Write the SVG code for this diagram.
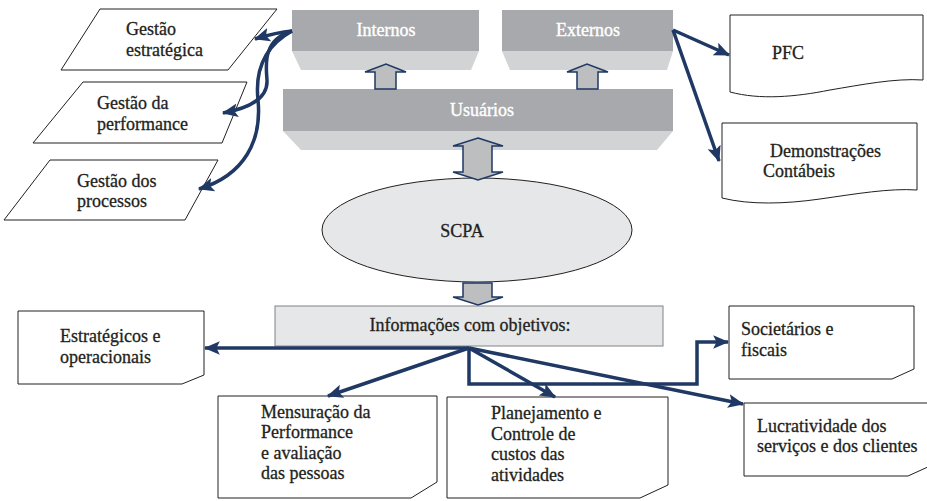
<svg xmlns="http://www.w3.org/2000/svg" width="927" height="501" viewBox="0 0 927 501">
<style>
text{font-family:"Liberation Serif","DejaVu Serif","Times New Roman",serif;font-size:18px;fill:#231f20;stroke:#231f20;stroke-width:0.3}
.w{fill:#ffffff;stroke:#ffffff;stroke-width:0.4}
.dark{fill:#a7a9ac}
.light{fill:#d1d3d4}
.shape{fill:#ffffff;stroke:#231f20;stroke-width:1}
.pale{fill:#e6e7e8;stroke:#231f20;stroke-width:1}
.info{fill:#e6e7e8;stroke:#808285;stroke-width:1}
.block{fill:#bcbec0;stroke:#1f3864;stroke-width:1.5}
.con{fill:none;stroke:#1f3864;stroke-width:3.5;marker-end:url(#ah)}
</style>
<defs>
<marker id="ah" markerUnits="userSpaceOnUse" markerWidth="16" markerHeight="16" viewBox="0 0 14 14" refX="13" refY="7" orient="auto">
<path d="M0,1 L14,7 L0,13 L3,7 Z" fill="#1f3864"/>
</marker>
</defs>
<rect width="927" height="501" fill="#ffffff"/>

<g id="gestao-estrategica">
<polygon class="shape" points="100,9 277,9 228,70 61,70"/>
<text x="126" y="35">Gestão</text>
<text x="126" y="56">estratégica</text>
</g>
<g id="gestao-performance">
<polygon class="shape" points="83,82 247,82 222,143 33,143"/>
<text x="97" y="109">Gestão da</text>
<text x="97" y="130">performance</text>
</g>
<g id="gestao-processos">
<polygon class="shape" points="50,160 218,160 185,220 4,220"/>
<text x="77" y="187">Gestão dos</text>
<text x="77" y="207">processos</text>
</g>

<g id="internos">
<rect class="dark" x="292" y="10" width="187" height="41"/>
<polygon class="light" points="292,51 479,51 471,70 301,70"/>
<text class="w" x="386" y="36" text-anchor="middle">Internos</text>
</g>
<g id="externos">
<rect class="dark" x="502" y="10" width="171" height="41"/>
<polygon class="light" points="502,51 673,51 667,70 510,70"/>
<text class="w" x="588" y="36" text-anchor="middle">Externos</text>
</g>
<g id="usuarios">
<rect class="dark" x="283" y="89" width="390" height="42"/>
<polygon class="light" points="283,131 673,131 657,150 301,150"/>
<text class="w" x="482" y="116" text-anchor="middle">Usuários</text>
</g>

<g id="pfc">
<path class="shape" d="M730,15 H923 V80 C895,78 860,85 830,90 C795,97 760,100 730,92 Z"/>
<text x="772" y="59">PFC</text>
</g>
<g id="demonstracoes">
<path class="shape" d="M722,123 H917 V190 C890,188 855,194 820,199 C785,204 750,205 722,198 Z"/>
<text x="770" y="157">Demonstrações</text>
<text x="763" y="177">Contábeis</text>
</g>

<g id="scpa">
<ellipse class="pale" cx="477" cy="230" rx="155" ry="52"/>
<text x="462" y="237" text-anchor="middle">SCPA</text>
</g>

<g id="informacoes">
<rect class="info" x="275" y="306" width="388" height="40"/>
<text x="470" y="331" text-anchor="middle">Informações com objetivos:</text>
</g>

<g id="estrategicos">
<polygon class="shape" points="18,311 204,311 204,375 182,384 18,384"/>
<text x="60" y="342">Estratégicos e</text>
<text x="60" y="363">operacionais</text>
</g>
<g id="mensuracao">
<polygon class="shape" points="218,396 437,396 437,482 411,498 218,498"/>
<text x="261" y="418">Mensuração da</text>
<text x="261" y="438">Performance</text>
<text x="261" y="459"> e avaliação</text>
<text x="261" y="479">das pessoas</text>
</g>
<g id="planejamento">
<polygon class="shape" points="447,397 668,397 668,485 640,498 447,498"/>
<text x="491" y="419">Planejamento e</text>
<text x="491" y="440">Controle de</text>
<text x="491" y="460">custos das</text>
<text x="491" y="481">atividades</text>
</g>
<g id="societarios">
<polygon class="shape" points="729,306 914,306 914,369 892,379 729,379"/>
<text x="741" y="335">Societários e</text>
<text x="741" y="356">fiscais</text>
</g>
<g id="lucratividade">
<polygon class="shape" points="744,403 930,403 930,466 908,476 744,476"/>
<text x="757" y="432">Lucratividade dos</text>
<text x="757" y="452">serviços e dos clientes</text>
</g>

<g id="connectors">
<polygon class="block" points="375,89 375,72 365,72 386,64 406,72 396,72 396,89"/>
<polygon class="block" points="577,89 577,72 567,72 587,64 608,72 598,72 598,89"/>
<polygon class="block" points="478,138 503,146 492,146 492,172 503,172 478,180 453,172 463,172 463,146 453,146"/>
<polygon class="block" points="463,283 492,283 492,297 503,297 478,305 453,297 463,297"/>

<path class="con" d="M292,31 C280,32 268,35 255,39"/>
<path class="con" d="M292,31 C262,40 266,66 267,80 C268,98 250,108 223,113"/>
<path class="con" d="M292,31 C272,42 254,62 258,100 C262,140 245,175 199,189"/>
<path class="con" d="M673,30 L729,55"/>
<path class="con" d="M673,30 L719,161"/>

<path class="con" d="M469,348 H205"/>
<path class="con" d="M469,348 L328,396"/>
<path class="con" d="M469,348 V384 H697 V342 H728"/>
<path class="con" d="M469,348 L555,397"/>
<path class="con" d="M469,348 L743,404"/>
</g>
</svg>
